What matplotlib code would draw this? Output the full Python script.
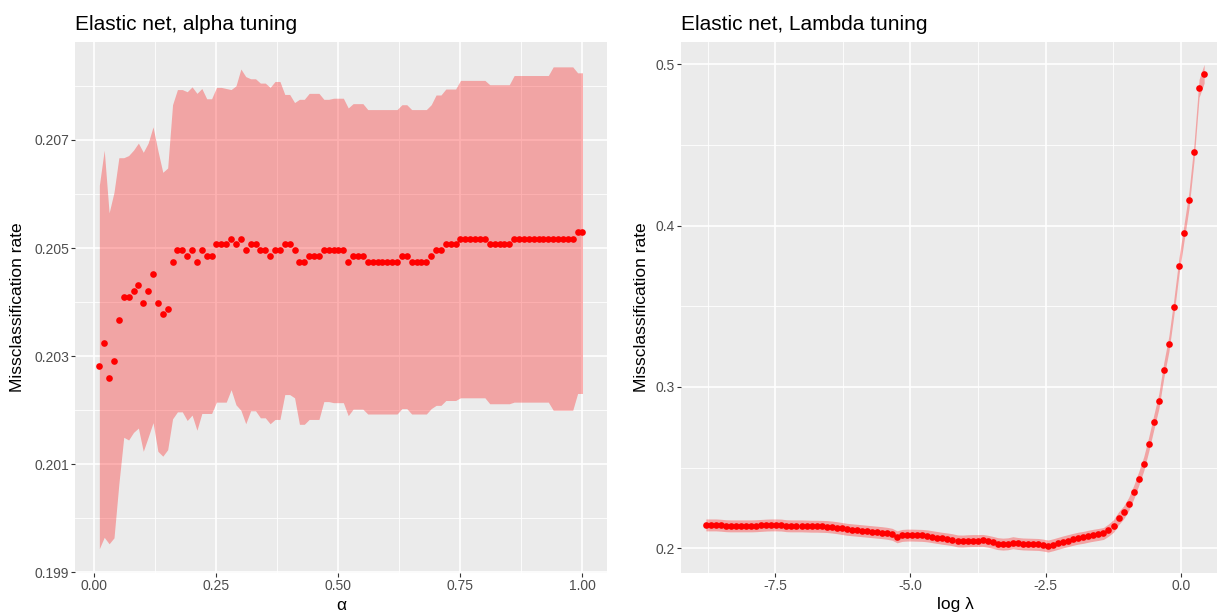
import numpy as np
import matplotlib
matplotlib.use("Agg")
import matplotlib.pyplot as plt

plt.rcParams['font.family'] = ['Liberation Sans', 'DejaVu Sans']
plt.rcParams['axes.unicode_minus'] = False

# ---------------- data: alpha tuning ----------------
alpha = np.round(np.arange(1, 101) * 0.01, 2)

alpha_cvm = [
    0.20281, 0.20324, 0.20259, 0.20291, 0.20367, 0.20410, 0.20410, 0.20421, 0.20431, 0.20399,
    0.20421, 0.20452, 0.20399, 0.20378, 0.20388, 0.20475, 0.20496, 0.20496, 0.20485, 0.20496,
    0.20475, 0.20496, 0.20485, 0.20485, 0.20507, 0.20507, 0.20507, 0.20517, 0.20507, 0.20517,
    0.20496, 0.20507, 0.20507, 0.20496, 0.20496, 0.20485, 0.20496, 0.20496, 0.20507, 0.20507,
    0.20496, 0.20475, 0.20475, 0.20485, 0.20485, 0.20485, 0.20496, 0.20496, 0.20496, 0.20496,
    0.20496, 0.20475, 0.20485, 0.20485, 0.20485, 0.20475, 0.20475, 0.20475, 0.20475, 0.20475,
    0.20475, 0.20475, 0.20485, 0.20485, 0.20475, 0.20475, 0.20475, 0.20475, 0.20485, 0.20496,
    0.20496, 0.20507, 0.20507, 0.20507, 0.20517, 0.20517, 0.20517, 0.20517, 0.20517, 0.20517,
    0.20507, 0.20507, 0.20507, 0.20507, 0.20507, 0.20517, 0.20517, 0.20517, 0.20517, 0.20517,
    0.20517, 0.20517, 0.20517, 0.20517, 0.20517, 0.20517, 0.20517, 0.20517, 0.20529, 0.20529,
]

alpha_upper = [
    0.20616, 0.20681, 0.20565, 0.20603, 0.20667, 0.20667, 0.20671, 0.20681, 0.20694, 0.20677,
    0.20694, 0.20724, 0.20680, 0.20640, 0.20648, 0.20765, 0.20793, 0.20793, 0.20789, 0.20798,
    0.20786, 0.20795, 0.20776, 0.20776, 0.20797, 0.20797, 0.20795, 0.20793, 0.20800, 0.20831,
    0.20817, 0.20813, 0.20813, 0.20805, 0.20805, 0.20797, 0.20808, 0.20808, 0.20784, 0.20784,
    0.20769, 0.20775, 0.20775, 0.20786, 0.20786, 0.20786, 0.20775, 0.20775, 0.20777, 0.20777,
    0.20777, 0.20759, 0.20767, 0.20767, 0.20767, 0.20756, 0.20756, 0.20756, 0.20756, 0.20756,
    0.20756, 0.20756, 0.20765, 0.20765, 0.20756, 0.20756, 0.20756, 0.20756, 0.20765, 0.20783,
    0.20783, 0.20794, 0.20794, 0.20794, 0.20810, 0.20810, 0.20810, 0.20810, 0.20810, 0.20810,
    0.20802, 0.20802, 0.20802, 0.20802, 0.20802, 0.20819, 0.20819, 0.20819, 0.20819, 0.20819,
    0.20819, 0.20819, 0.20819, 0.20835, 0.20835, 0.20835, 0.20835, 0.20835, 0.20824, 0.20824,
]

alpha_lower = [
    0.19944, 0.19965, 0.19953, 0.19964, 0.20064, 0.20150, 0.20145, 0.20159, 0.20167, 0.20124,
    0.20150, 0.20177, 0.20124, 0.20115, 0.20127, 0.20184, 0.20197, 0.20197, 0.20181, 0.20191,
    0.20163, 0.20194, 0.20194, 0.20194, 0.20215, 0.20215, 0.20215, 0.20238, 0.20210, 0.20200,
    0.20175, 0.20199, 0.20199, 0.20186, 0.20186, 0.20175, 0.20183, 0.20183, 0.20229, 0.20229,
    0.20223, 0.20174, 0.20174, 0.20183, 0.20183, 0.20183, 0.20216, 0.20216, 0.20214, 0.20214,
    0.20214, 0.20190, 0.20202, 0.20202, 0.20202, 0.20193, 0.20193, 0.20193, 0.20193, 0.20193,
    0.20193, 0.20193, 0.20203, 0.20203, 0.20193, 0.20193, 0.20193, 0.20193, 0.20203, 0.20209,
    0.20209, 0.20218, 0.20218, 0.20218, 0.20223, 0.20223, 0.20223, 0.20223, 0.20223, 0.20223,
    0.20212, 0.20212, 0.20212, 0.20212, 0.20212, 0.20215, 0.20215, 0.20215, 0.20215, 0.20215,
    0.20215, 0.20215, 0.20215, 0.20200, 0.20200, 0.20200, 0.20200, 0.20200, 0.20231, 0.20231,
]

# ---------------- data: lambda tuning ----------------
log_lambda = np.linspace(-8.78, 0.43, 100)

lambda_cvm = [
    0.2145, 0.2145, 0.2145, 0.2143, 0.2140, 0.2139, 0.2139, 0.2139, 0.2139, 0.2139,
    0.2140, 0.2142, 0.2144, 0.2145, 0.2145, 0.2144, 0.2140, 0.2139, 0.2139, 0.2139,
    0.2138, 0.2137, 0.2137, 0.2136, 0.2135, 0.2132, 0.2128, 0.2123, 0.2118, 0.2115,
    0.2112, 0.2109, 0.2106, 0.2103, 0.2100, 0.2097, 0.2093, 0.2087, 0.2071, 0.2080,
    0.2082, 0.2082, 0.2081, 0.2080, 0.2077, 0.2072, 0.2067, 0.2062, 0.2058, 0.2053,
    0.2046, 0.2045, 0.2047, 0.2048, 0.2048, 0.2049, 0.2044, 0.2037, 0.2029, 0.2026,
    0.2028, 0.2035, 0.2030, 0.2027, 0.2026, 0.2025, 0.2024, 0.2020, 0.2014, 0.2022,
    0.2031, 0.2040, 0.2048, 0.2056, 0.2063, 0.2068, 0.2075, 0.2081, 0.2086, 0.2092,
    0.2113, 0.2139, 0.2186, 0.2222, 0.2274, 0.2347, 0.2432, 0.2524, 0.2646, 0.2781,
    0.2911, 0.3106, 0.3268, 0.3497, 0.3749, 0.3955, 0.4160, 0.4457, 0.4851, 0.4941,
]

lambda_sd = [
    0.0037, 0.0037, 0.0037, 0.0037, 0.0037, 0.0037, 0.0037, 0.0037, 0.0037, 0.0037,
    0.0037, 0.0037, 0.0037, 0.0037, 0.0037, 0.0037, 0.0037, 0.0037, 0.0037, 0.0037,
    0.0037, 0.0037, 0.0037, 0.0037, 0.0037, 0.0037, 0.0037, 0.0037, 0.0037, 0.0037,
    0.0037, 0.0037, 0.0037, 0.0037, 0.0037, 0.0037, 0.0037, 0.0037, 0.0037, 0.0037,
    0.0037, 0.0037, 0.0037, 0.0037, 0.0037, 0.0037, 0.0037, 0.0037, 0.0037, 0.0037,
    0.0037, 0.0037, 0.0037, 0.0037, 0.0037, 0.0037, 0.0037, 0.0037, 0.0037, 0.0037,
    0.0037, 0.0037, 0.0037, 0.0037, 0.0037, 0.0037, 0.0037, 0.0037, 0.0037, 0.0037,
    0.0037, 0.0037, 0.0037, 0.0037, 0.0037, 0.0037, 0.0037, 0.0037, 0.0037, 0.0037,
    0.0038, 0.0039, 0.0040, 0.0040, 0.0041, 0.0042, 0.0043, 0.0044, 0.0045, 0.0046,
    0.0047, 0.0048, 0.0049, 0.0050, 0.0051, 0.0052, 0.0053, 0.0054, 0.0056, 0.0058,
]

alpha_xticks = [0.00, 0.25, 0.50, 0.75, 1.00]
alpha_xlabels = ["0.00", "0.25", "0.50", "0.75", "1.00"]
alpha_yticks = [0.199, 0.201, 0.203, 0.205, 0.207]
alpha_ylabels = ["0.199", "0.201", "0.203", "0.205", "0.207"]
lambda_xticks = [-7.5, -5.0, -2.5, 0.0]
lambda_xlabels = ["-7.5", "-5.0", "-2.5", "0.0"]
lambda_yticks = [0.2, 0.3, 0.4, 0.5]
lambda_ylabels = ["0.2", "0.3", "0.4", "0.5"]

# ---------------- figure ----------------
W, H = 1217, 615
fig = plt.figure(figsize=(W / 100, H / 100), dpi=100)
fig.patch.set_facecolor("white")

top_px, bot_px = 42, 573
ax1 = fig.add_axes([75 / W, 1 - bot_px / H, (606.7 - 75) / W, (bot_px - top_px) / H])
ax2 = fig.add_axes([681 / W, 1 - bot_px / H, (1229 - 681) / W, (bot_px - top_px) / H])


def gg_style(ax, xt, xl, yt, yl, xminor, yminor):
    ax.set_facecolor("#EBEBEB")
    for s in ax.spines.values():
        s.set_visible(False)
    ax.set_xticks(xt)
    ax.set_xticklabels(xl)
    ax.set_yticks(yt)
    ax.set_yticklabels(yl)
    ax.set_xticks(xminor, minor=True)
    ax.set_yticks(yminor, minor=True)
    ax.grid(True, which="major", color="white", linewidth=1.2)
    ax.grid(True, which="minor", color="white", linewidth=0.6)
    ax.set_axisbelow(True)
    ax.tick_params(which="major", length=2.7, width=0.8, color="#333333",
                   labelcolor="#4D4D4D", labelsize=10, pad=1.6)
    ax.tick_params(which="minor", length=0)


# left panel
ax1.fill_between(alpha, alpha_lower, alpha_upper, color="red", alpha=0.3,
                 linewidth=0, zorder=2)
ax1.plot(alpha, alpha_cvm, "o", color="red", markersize=4.8,
         markeredgewidth=0, zorder=3)
gg_style(ax1, alpha_xticks, alpha_xlabels, alpha_yticks, alpha_ylabels,
         [0.125, 0.375, 0.625, 0.875], [0.200, 0.202, 0.204, 0.206, 0.208])
ax1.set_xlim(-0.0399, 1.0496)
ax1.set_ylim(0.19899, 0.20881)

# right panel
lo = np.array(lambda_cvm) - np.array(lambda_sd)
hi = np.array(lambda_cvm) + np.array(lambda_sd)
ax2.fill_between(log_lambda, lo, hi, color="red", alpha=0.3, linewidth=0, zorder=2)
ax2.plot(log_lambda, lambda_cvm, "o", color="red", markersize=4.8,
         markeredgewidth=0, zorder=3)
gg_style(ax2, lambda_xticks, lambda_xlabels, lambda_yticks, lambda_ylabels,
         [-8.75, -6.25, -3.75, -1.25], [0.25, 0.35, 0.45])
ax2.set_xlim(-9.24, 0.89)
ax2.set_ylim(0.1847, 0.5138)

# titles and axis labels
fig.text(75 / W, 1 - 30.5 / H, "Elastic net, alpha tuning", fontsize=15,
         ha="left", va="baseline", color="black")
fig.text(681 / W, 1 - 30.5 / H, "Elastic net, Lambda tuning", fontsize=15,
         ha="left", va="baseline", color="black")
mid_y = 1 - ((top_px + bot_px) / 2) / H
fig.text(18 / W, mid_y, "Missclassification rate", fontsize=12.5, rotation=90,
         ha="center", va="center")
fig.text(641 / W, mid_y, "Missclassification rate", fontsize=12.5, rotation=90,
         ha="center", va="center")
fig.text(341 / W, 1 - 605 / H, "α", fontsize=12.5, ha="center", va="center")
fig.text(955 / W, 1 - 605 / H, "log λ", fontsize=12.5, ha="center", va="center")

fig.savefig("out.png", dpi=100)
